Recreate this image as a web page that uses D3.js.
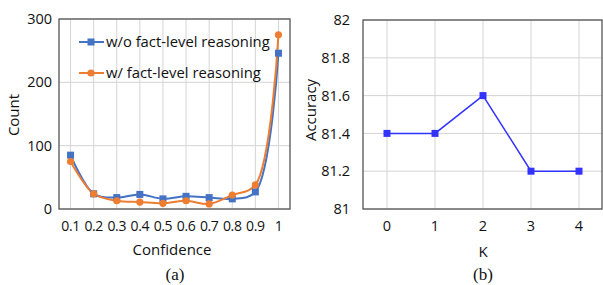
<!DOCTYPE html>
<html>
<head>
<meta charset="utf-8">
<script src="https://cdn.jsdelivr.net/npm/d3@7"></script>
<style>
  body { margin: 0; background: #fff; }
  text { font-family: "Open Sans", "Noto Sans", sans-serif; fill: #111; }
  .cap { font-family: "Liberation Serif", "Times New Roman", serif; }
</style>
</head>
<body>
<div id="chart"></div>
<script>
// data for (a)
var confidence = ["0.1", "0.2", "0.3", "0.4", "0.5", "0.6", "0.7", "0.8", "0.9", "1"];
var withoutFact = [85, 24, 18, 23, 16, 20, 18, 16, 27, 246];
var withFact = [75, 24, 13, 11, 9, 13, 8, 22, 38, 275];
var countTicks = [0, 100, 200, 300];

// data for (b)
var kValues = ["0", "1", "2", "3", "4"];
var accuracy = [81.4, 81.4, 81.6, 81.2, 81.2];
var accTicks = [81, 81.2, 81.4, 81.6, 81.8, 82];

var svg = d3.select("#chart").append("svg")
  .attr("width", 603)
  .attr("height", 285);

var gridColor = "#d4d4d4";
var frameColor = "#555";

// ---------- (a) ----------
var a = { left: 59, right: 290, top: 19, bottom: 209 };

var xA = d3.scaleBand().domain(confidence).range([a.left, a.right]);
var yA = d3.scaleLinear().domain([0, 300]).range([a.bottom, a.top]);
var cx = d => xA(d) + xA.bandwidth() / 2;

var gA = svg.append("g");

// gridlines
gA.append("g").selectAll("line").data(countTicks).enter().append("line")
  .attr("x1", a.left).attr("x2", a.right)
  .attr("y1", d => yA(d)).attr("y2", d => yA(d))
  .attr("stroke", gridColor).attr("stroke-width", 1);
gA.append("g").selectAll("line").data(confidence).enter().append("line")
  .attr("x1", cx).attr("x2", cx)
  .attr("y1", a.top).attr("y2", a.bottom)
  .attr("stroke", gridColor).attr("stroke-width", 1);

gA.append("rect")
  .attr("x", a.left).attr("y", a.top)
  .attr("width", a.right - a.left).attr("height", a.bottom - a.top)
  .attr("fill", "none").attr("stroke", frameColor).attr("stroke-width", 1.3);

// axes
var leftA = d3.axisLeft(yA).tickValues(countTicks).tickSize(0).tickPadding(7);
gA.append("g").attr("transform", `translate(${a.left},0)`).call(leftA)
  .call(g => g.select(".domain").remove())
  .selectAll("text").style("font-size", "14.5px");

var bottomA = d3.axisBottom(xA).tickSize(0).tickPadding(12);
gA.append("g").attr("transform", `translate(0,${a.bottom})`).call(bottomA)
  .call(g => g.select(".domain").remove())
  .selectAll("text").style("font-size", "14px").style("letter-spacing", "-0.4px");

// lines
var lineA = d3.line()
  .x((d, i) => cx(confidence[i]))
  .y(d => yA(d))
  .curve(d3.curveCatmullRom.alpha(0.5));

var blueA = "#4472C4", orangeA = "#ED7D31";

gA.append("path").datum(withoutFact).attr("d", lineA)
  .attr("fill", "none").attr("stroke", blueA).attr("stroke-width", 2);
gA.append("path").datum(withFact).attr("d", lineA)
  .attr("fill", "none").attr("stroke", orangeA).attr("stroke-width", 2);

gA.append("g").selectAll("rect").data(withoutFact).enter().append("rect")
  .attr("x", (d, i) => cx(confidence[i]) - 3.5)
  .attr("y", d => yA(d) - 3.5)
  .attr("width", 7).attr("height", 7)
  .attr("fill", blueA);
gA.append("g").selectAll("circle").data(withFact).enter().append("circle")
  .attr("cx", (d, i) => cx(confidence[i]))
  .attr("cy", d => yA(d))
  .attr("r", 3.6)
  .attr("fill", orangeA);

// legend
var legend = gA.append("g");
legend.append("line").attr("x1", 79).attr("x2", 104).attr("y1", 42).attr("y2", 42)
  .attr("stroke", blueA).attr("stroke-width", 2);
legend.append("rect").attr("x", 87.5).attr("y", 38.5).attr("width", 7).attr("height", 7)
  .attr("fill", blueA);
legend.append("text").attr("x", 106).attr("y", 42).attr("dy", "0.35em")
  .style("font-size", "14.8px").text("w/o fact-level reasoning");
legend.append("line").attr("x1", 79).attr("x2", 104).attr("y1", 73).attr("y2", 73)
  .attr("stroke", orangeA).attr("stroke-width", 2);
legend.append("circle").attr("cx", 91).attr("cy", 73).attr("r", 3.6)
  .attr("fill", orangeA);
legend.append("text").attr("x", 106).attr("y", 73).attr("dy", "0.35em")
  .style("font-size", "14.8px").text("w/ fact-level reasoning");

// axis titles
gA.append("text")
  .attr("transform", "translate(14,115) rotate(-90)")
  .attr("text-anchor", "middle").attr("dy", "0.35em")
  .style("font-size", "15px").text("Count");
gA.append("text")
  .attr("x", 172).attr("y", 250).attr("dy", "0.35em")
  .attr("text-anchor", "middle")
  .style("font-size", "15px").text("Confidence");
gA.append("text").attr("class", "cap")
  .attr("x", 175).attr("y", 274).attr("dy", "0.35em")
  .attr("text-anchor", "middle")
  .style("font-size", "17px").text("(a)");

// ---------- (b) ----------
var b = { left: 363, right: 602, top: 20, bottom: 209 };

var xB = d3.scaleBand().domain(kValues).range([b.left, b.left + 240]);
var yB = d3.scaleLinear().domain([81, 82]).range([b.bottom, b.top]);
var kx = d => xB(d) + xB.bandwidth() / 2;

var gB = svg.append("g");

gB.append("g").selectAll("line").data(accTicks).enter().append("line")
  .attr("x1", b.left).attr("x2", b.right)
  .attr("y1", d => yB(d)).attr("y2", d => yB(d))
  .attr("stroke", gridColor).attr("stroke-width", 1);
gB.append("g").selectAll("line").data(kValues).enter().append("line")
  .attr("x1", kx).attr("x2", kx)
  .attr("y1", b.top).attr("y2", b.bottom)
  .attr("stroke", gridColor).attr("stroke-width", 1);

gB.append("rect")
  .attr("x", b.left).attr("y", b.top)
  .attr("width", b.right - b.left).attr("height", b.bottom - b.top)
  .attr("fill", "none").attr("stroke", frameColor).attr("stroke-width", 1.3);

var leftB = d3.axisLeft(yB).tickValues(accTicks).tickSize(0).tickPadding(13)
  .tickFormat(d => d3.format("")(Math.round(d * 10) / 10));
gB.append("g").attr("transform", `translate(${b.left},0)`).call(leftB)
  .call(g => g.select(".domain").remove())
  .selectAll("text").style("font-size", "14.5px");

var bottomB = d3.axisBottom(xB).tickSize(0).tickPadding(12);
gB.append("g").attr("transform", `translate(0,${b.bottom})`).call(bottomB)
  .call(g => g.select(".domain").remove())
  .selectAll("text").style("font-size", "14.5px");

var blueB = "#3333ff";
var lineB = d3.line()
  .x((d, i) => kx(kValues[i]))
  .y(d => yB(d));

gB.append("path").datum(accuracy).attr("d", lineB)
  .attr("fill", "none").attr("stroke", blueB).attr("stroke-width", 1.5);
gB.append("g").selectAll("rect").data(accuracy).enter().append("rect")
  .attr("x", (d, i) => kx(kValues[i]) - 3.5)
  .attr("y", d => yB(d) - 3.5)
  .attr("width", 7).attr("height", 7)
  .attr("fill", blueB);

gB.append("text")
  .attr("transform", "translate(311,110) rotate(-90)")
  .attr("text-anchor", "middle").attr("dy", "0.35em")
  .style("font-size", "15px").text("Accuracy");
gB.append("text")
  .attr("x", 483).attr("y", 252).attr("dy", "0.35em")
  .attr("text-anchor", "middle")
  .style("font-size", "15px").text("K");
gB.append("text").attr("class", "cap")
  .attr("x", 483).attr("y", 274).attr("dy", "0.35em")
  .attr("text-anchor", "middle")
  .style("font-size", "17px").text("(b)");
</script>
</body>
</html>
